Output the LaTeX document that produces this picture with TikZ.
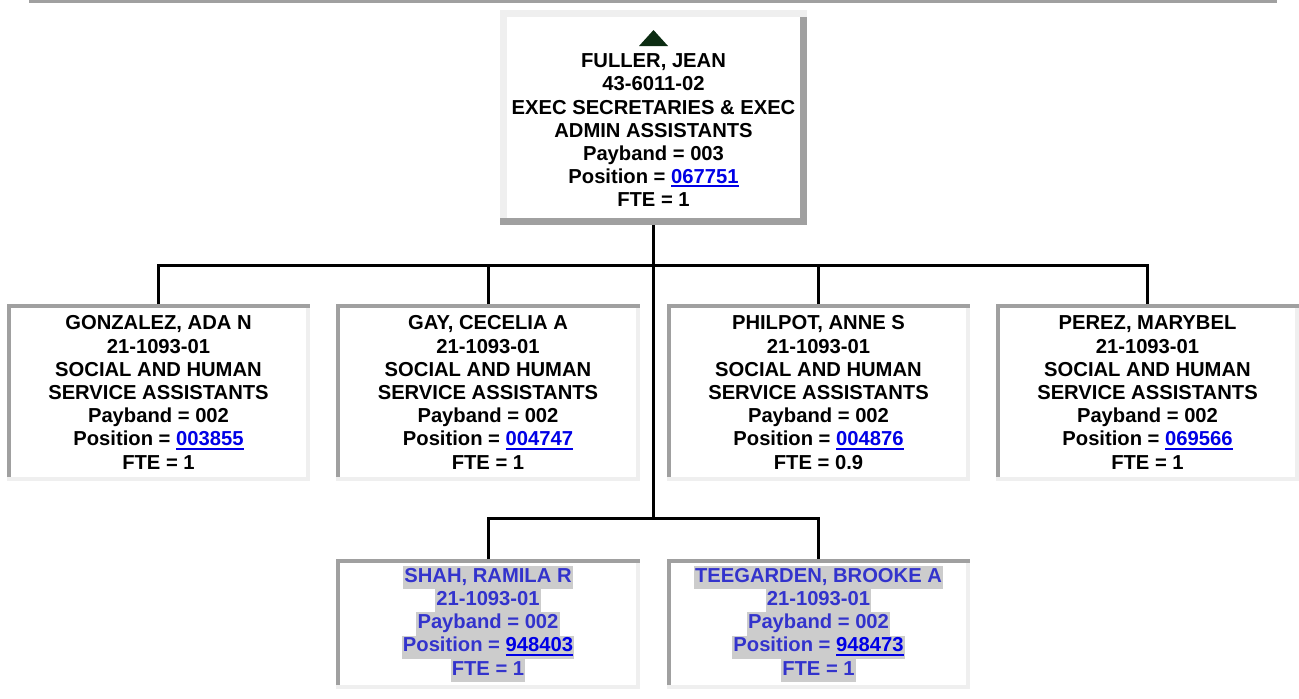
\documentclass[tikz,border=0pt]{standalone}
\usepackage{fontspec}
\setmainfont{Liberation Sans}
\usetikzlibrary{calc,backgrounds}

\definecolor{bordaescura}{RGB}{160,160,160}
\definecolor{bordaclara}{RGB}{239,239,239}
\definecolor{setaverde}{RGB}{12,44,18}
\definecolor{linkazul}{RGB}{0,0,230}
\definecolor{vagoazul}{RGB}{51,51,204}
\definecolor{realce}{RGB}{204,204,204}

% numero da posicao (link sublinhado)
\newcommand{\pos}[1]{\textcolor{linkazul}{\setbox0\hbox{#1}\rlap{\rule[-2.1pt]{\wd0}{1.1pt}}\box0}}
% linha com fundo cinza (vagas)
\newcommand{\realcado}[1]{{\setlength{\fboxsep}{0pt}\colorbox{realce}{\strut\hspace{0.6pt}#1\hspace{0.6pt}}}}

\begin{document}
\begin{tikzpicture}[x=0.02cm, y=0.02cm,
    caixa/.style={fill=white, align=center, inner sep=0pt, outer sep=0.08cm,
        minimum width=5.92cm, minimum height=3.38cm,
        font=\fontsize{11.5}{13.2}\selectfont\bfseries},
    vaga/.style={caixa, minimum height=2.44cm, text=vagoazul},
    chefe/.style={caixa, outer sep=0.15cm, minimum width=5.86cm, minimum height=4.02cm},
    ligacao/.style={line width=0.06cm, black}]
    \useasboundingbox (0,0) rectangle (1299,698);

    % Linha cinza no topo
    \fill[bordaescura] (29,695) rectangle (1277,698);

    % Chefe
    \node[chefe] (fuller) at (653.5,580.5) {\strut\\FULLER, JEAN\\43-6011-02\\EXEC SECRETARIES \& EXEC\\ADMIN ASSISTANTS\\Payband = 003\\Position = \pos{067751}\\FTE = 1};
    \fill[setaverde] ($(fuller.north)+(0,-20.5)$) -- ($(fuller.north)+(14.5,-36.5)$) -- ($(fuller.north)+(-14.5,-36.5)$) -- cycle;

    % Subordinados
    \node[caixa] (gonzalez) at (158.5,305.5) {GONZALEZ, ADA N\\21-1093-01\\SOCIAL AND HUMAN\\SERVICE ASSISTANTS\\Payband = 002\\Position = \pos{003855}\\FTE = 1};
    \node[caixa] (gay) at (488,305.5) {GAY, CECELIA A\\21-1093-01\\SOCIAL AND HUMAN\\SERVICE ASSISTANTS\\Payband = 002\\Position = \pos{004747}\\FTE = 1};
    \node[caixa] (philpot) at (818.5,305.5) {PHILPOT, ANNE S\\21-1093-01\\SOCIAL AND HUMAN\\SERVICE ASSISTANTS\\Payband = 002\\Position = \pos{004876}\\FTE = 0.9};
    \node[caixa] (perez) at (1147.5,305.5) {PEREZ, MARYBEL\\21-1093-01\\SOCIAL AND HUMAN\\SERVICE ASSISTANTS\\Payband = 002\\Position = \pos{069566}\\FTE = 1};

    % Vagas
    \node[vaga] (shah) at (488,74) {\realcado{SHAH, RAMILA R}\\\realcado{21-1093-01}\\\realcado{Payband = 002}\\\realcado{Position = \pos{948403}}\\\realcado{FTE = 1}};
    \node[vaga] (teegarden) at (818.5,74) {\realcado{TEEGARDEN, BROOKE A}\\\realcado{21-1093-01}\\\realcado{Payband = 002}\\\realcado{Position = \pos{948473}}\\\realcado{FTE = 1}};

    % Molduras
    \begin{scope}[on background layer]
        \fill[bordaclara] (fuller.north west) rectangle (fuller.south east);
        \fill[bordaescura] ($(fuller.north east)+(-7.5,-7.5)$) rectangle (fuller.south east);
        \fill[bordaescura] (fuller.south west) rectangle ($(fuller.south east)+(0,7.5)$);
        \foreach \n in {gonzalez,gay,philpot,perez,shah,teegarden} {
            \fill[bordaclara] (\n.north west) rectangle (\n.south east);
            \fill[bordaescura] (\n.north west) rectangle ($(\n.north east)+(0,-4)$);
            \fill[bordaescura] (\n.north west) rectangle ($(\n.south west)+(4,4)$);
        }
    \end{scope}

    % Ligacoes
    \coordinate (barra) at (653.5,433);
    \coordinate (barra2) at (653.5,180);
    \draw[ligacao] (fuller.south) -- (barra2);
    \draw[ligacao] (gonzalez.north) |- (barra) -| (perez.north);
    \draw[ligacao] (gay.north) -- (gay.north |- barra);
    \draw[ligacao] (philpot.north) -- (philpot.north |- barra);
    \draw[ligacao] (shah.north) |- (barra2) -| (teegarden.north);
\end{tikzpicture}
\end{document}
